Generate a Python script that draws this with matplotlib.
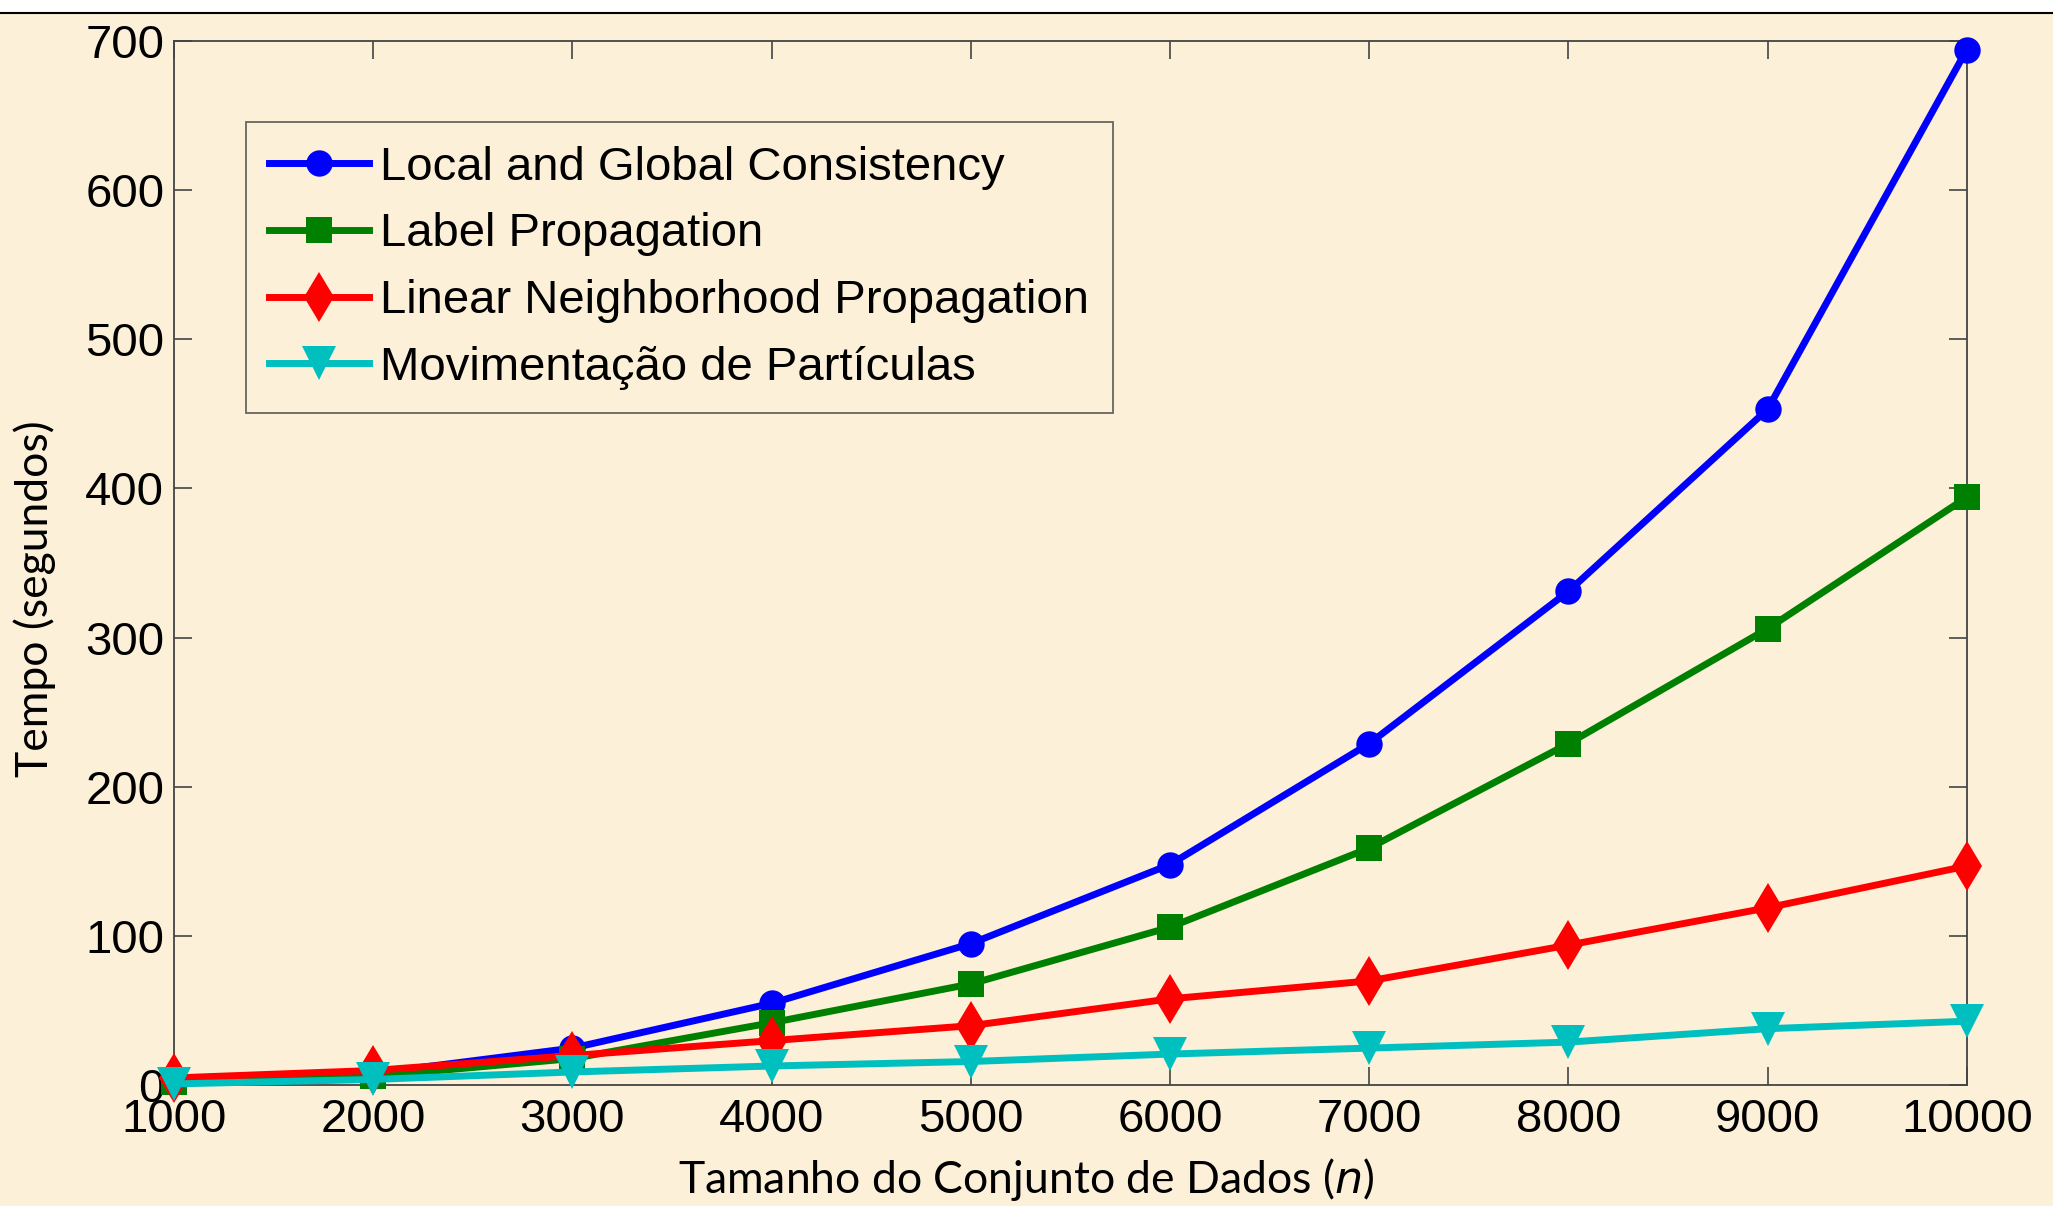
import matplotlib
matplotlib.use("Agg")
import matplotlib.pyplot as plt
from matplotlib.lines import Line2D

# data
n_sizes = [1000, 2000, 3000, 4000, 5000, 6000, 7000, 8000, 9000, 10000]
lgc = [3, 8, 25, 55, 95, 148, 229, 331, 453, 694]
lp = [2, 6, 18, 42, 68, 106, 159, 229, 306, 394]
lnp = [5, 10, 20, 30, 40, 58, 70, 94, 119, 147]
particles = [1, 4, 9, 13, 16, 21, 25, 29, 38, 43]

series_names = [
    "Local and Global Consistency",
    "Label Propagation",
    "Linear Neighborhood Propagation",
    "Movimentação de Partículas",
]

bg = "#fcf0d8"
tick_font = "Liberation Sans"
label_font = "Lato"

fig = plt.figure(figsize=(20.53, 12.06), dpi=100, facecolor=bg)
ax = fig.add_axes([0.0848, 0.100, 0.8732, 0.8663])
ax.set_facecolor("none")

# white strip with a line at the very top
fig.patches.append(plt.Rectangle((0, 0.989), 1, 0.011, transform=fig.transFigure,
                                 facecolor="white", edgecolor="none", zorder=0))
fig.add_artist(Line2D([0, 1], [0.989, 0.989], transform=fig.transFigure,
                      color="black", lw=1.5))

styles = [
    dict(color="#0000ff", marker="o", markersize=19),
    dict(color="#008000", marker="s", markersize=19),
    dict(color="#ff0000", marker="d", markersize=25),
    dict(color="#00bfbf", marker="v", markersize=24),
]
for ys, name, st in zip([lgc, lp, lnp, particles], series_names, styles):
    ax.plot(n_sizes, ys, lw=5, label=name, clip_on=False, zorder=3,
            markeredgewidth=0, **st)

ax.set_xlim(1000, 10000)
ax.set_ylim(0, 700)
ax.set_xticks(n_sizes)
ax.set_yticks(range(0, 701, 100))
ax.tick_params(direction="in", length=13, width=1.2, top=True, right=True,
               labelsize=34, colors="#444444", labelcolor="black")
ax.tick_params(axis="x", pad=9)
ax.tick_params(axis="y", pad=7)
for lab in ax.get_xticklabels() + ax.get_yticklabels():
    lab.set_fontfamily(tick_font)
for sp in ax.spines.values():
    sp.set_color("#444444")
    sp.set_linewidth(1.3)

ax.set_xlabel("Tamanho do Conjunto de Dados ($\\mathit{n}$)", fontsize=32,
              fontfamily=label_font)
ax.xaxis.set_label_coords(0.475, -0.068)
ax.set_ylabel("Tempo (segundos)", fontsize=32, fontfamily=label_font)
ax.yaxis.set_label_coords(-0.066, 0.466)

leg = ax.legend(loc="upper left", bbox_to_anchor=(0.040, 0.922),
                prop={"family": tick_font, "size": 34}, frameon=True, fancybox=False,
                handlelength=2.1, handletextpad=0.25, borderpad=0.5,
                labelspacing=0.48, borderaxespad=0)
leg.get_frame().set_facecolor("none")
leg.get_frame().set_edgecolor("#444444")
leg.get_frame().set_linewidth(1.3)

fig.savefig("out.png", dpi=100, facecolor=bg)
